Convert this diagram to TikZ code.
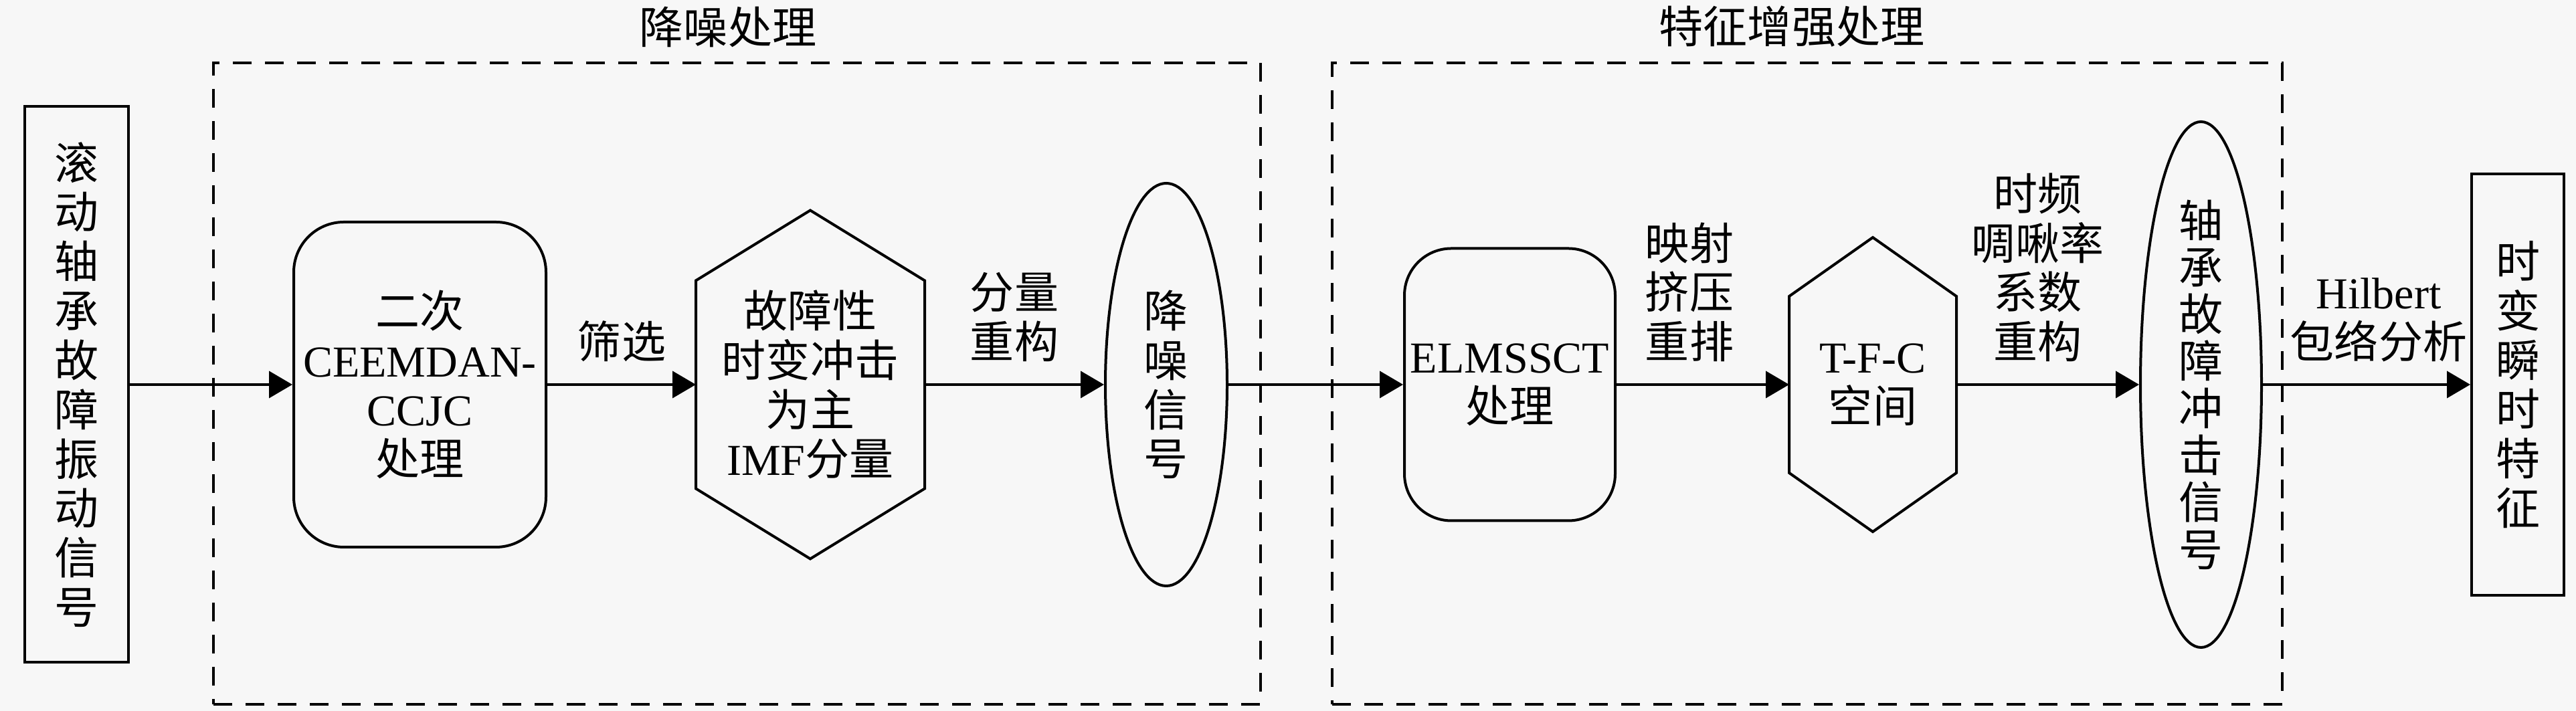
\documentclass[tikz,border=0pt]{standalone}
\usepackage{fontspec}
\setmainfont{Noto Sans CJK SC}
\newfontfamily\lat{Liberation Serif}
\usepackage{tikz}
\usetikzlibrary{positioning, arrows.meta, shapes.geometric}
\definecolor{bggray}{HTML}{F7F7F7}
\tikzstyle{arrow} = [line width=0.04cm, -{Triangle[length=0.35cm,width=0.4cm]}]
\tikzstyle{sblock} = [rectangle, draw, line width=0.04cm, align=center, inner sep=0pt]
\tikzstyle{rblock} = [rectangle, draw, line width=0.04cm, rounded corners=0.75cm, 
align=center, inner sep=0pt]
\tikzstyle{hblock} = [rectangle, line width=0.04cm, outer sep=0pt, align=center, inner sep=0pt]
\tikzstyle{eblock} = [ellipse, draw, line width=0.04cm, align=center, inner sep=0pt]
\tikzstyle{dbox} = [rectangle, draw, line width=0.045cm, dash pattern=on 0.28cm off 0.2cm]
\tikzstyle{elabel} = [anchor=south, align=center, inner sep=0.32cm]

\begin{document}
\begin{tikzpicture}
    \tikzstyle{every node}=[font=\fontsize{18.8}{21}\selectfont]
    \fill [bggray] (0,0) rectangle (38.5,10.63);
    \useasboundingbox (0,0) rectangle (38.5,10.63);

    \node (DenoiseBox) [dbox, minimum width=15.65cm, minimum height=9.59cm] at (11.015,4.895) {};
    \node (EnhanceBox) [dbox, minimum width=14.2cm, minimum height=9.59cm] at (27.01,4.895) {};
    \node (DenoiseTitle) at (10.88,10.23) {降噪处理};
    \node (EnhanceTitle) at (26.78,10.23) {特征增强处理};

	\node (Signal) [sblock, minimum width=1.55cm, minimum height=8.31cm] at (1.145,4.88) {滚\\动\\轴\\承\\故\\障\\振\\动\\信\\号};
	\node (CEEMDAN) [rblock, minimum width=3.77cm, minimum height=4.86cm, right=2.43cm of Signal] {二次\\{\lat CEEMDAN-}\\{\lat CCJC}\\处理};
	\node (IMF) [hblock, minimum width=3.42cm, minimum height=5.21cm, right=2.22cm of CEEMDAN] {故障性\\时变冲击\\为主\\{\lat IMF}分量};
	\node (Denoised) [eblock, minimum width=1.82cm, minimum height=6.02cm, right=2.68cm of IMF] {降\\噪\\信\\号};
    \node (ELMSSCT) [rblock, rounded corners=0.7cm, minimum width=3.15cm, minimum height=4.07cm, right=2.61cm of Denoised] {{\lat ELMSSCT}\\处理};
    \node (TFC) [hblock, minimum width=2.5cm, minimum height=4.4cm, right=2.58cm of ELMSSCT] {{\lat T-F-C}\\空间};
    \node (Impulse) [eblock, minimum width=1.81cm, minimum height=7.86cm, right=2.73cm of TFC, font=\fontsize{18.8}{20}\selectfont] {轴\\承\\故\\障\\冲\\击\\信\\号};
    \node (Feature) [sblock, minimum width=1.38cm, minimum height=6.3cm, right=3.1cm of Impulse] {时\\变\\瞬\\时\\特\\征};

    \foreach \n/\r in {IMF/1.05cm, TFC/0.88cm}
        \draw [line width=0.04cm] (\n.north) -- ([yshift=-\r]\n.north east) -- ([yshift=\r]\n.south east) -- (\n.south) -- ([yshift=\r]\n.south west) -- ([yshift=-\r]\n.north west) -- cycle;

	\draw [arrow] (Signal) -- (CEEMDAN);
	\draw [arrow] (CEEMDAN) -- node[elabel] {筛选} (IMF);
    \draw [arrow] (IMF) -- node[elabel] {分量\\重构} (Denoised);
    \draw [arrow] (Denoised) -- (ELMSSCT);
    \draw [arrow] (ELMSSCT) -- node[elabel, xshift=-0.2cm] {映射\\挤压\\重排} (TFC);
    \draw [arrow] (TFC) -- node[elabel, xshift=-0.15cm] {时频\\啁啾率\\系数\\重构} (Impulse);
    \draw [arrow] (Impulse) -- node[elabel, xshift=0.18cm] {{\lat Hilbert}\\包络分析} (Feature);
\end{tikzpicture}
\end{document}
